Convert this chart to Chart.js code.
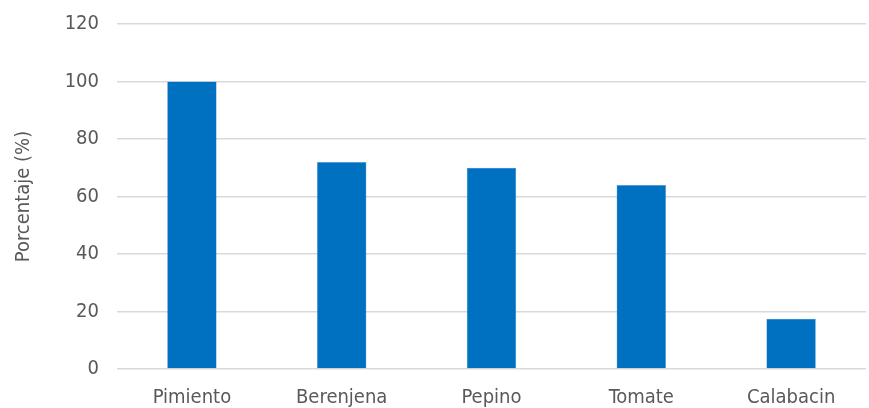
<!DOCTYPE html>
<html>
<head>
<meta charset="utf-8">
<script src="https://cdn.jsdelivr.net/npm/chart.js@4"></script>
<style>
  html, body { margin: 0; padding: 0; background: #fff; }
  #wrap { width: 869px; height: 408px; }
</style>
</head>
<body>
<div id="wrap"><canvas id="chart"></canvas></div>
<script>
// Chart data
const categories = ['Pimiento', 'Berenjena', 'Pepino', 'Tomate', 'Calabacin'];
const values = [100, 72, 70, 64, 17.5];
const yTicks = { min: 0, max: 120, step: 20 };

const fontFamily = '"DejaVu Sans Condensed", "Liberation Sans Narrow", sans-serif';
const textColor = '#595959';

new Chart(document.getElementById('chart'), {
  type: 'bar',
  data: {
    labels: categories,
    datasets: [{
      label: 'Porcentaje',
      data: values,
      backgroundColor: '#0070c0',
      borderColor: '#5b9bd5',
      borderWidth: 0.5,
      categoryPercentage: 1,
      barPercentage: 0.33,
    }]
  },
  options: {
    responsive: true,
    maintainAspectRatio: false,
    animation: false,
    layout: { padding: { top: 24, right: 3, left: 12, bottom: 0 } },
    plugins: {
      legend: { display: false },
      tooltip: { enabled: false },
    },
    scales: {
      x: {
        grid: { display: false },
        border: { display: false },
        ticks: { color: textColor, font: { family: fontFamily, size: 20 }, padding: 9 },
        afterFit: (s) => { s.height = 39; s.paddingLeft = 0; s.paddingRight = 0; },
      },
      y: {
        min: yTicks.min,
        max: yTicks.max,
        ticks: {
          stepSize: yTicks.step,
          color: textColor,
          padding: 18,
          font: { family: fontFamily, size: 20 },
        },
        grid: { color: '#d9d9d9', lineWidth: 1.5, drawTicks: false },
        border: { display: false },
        title: {
          display: true,
          text: 'Porcentaje (%)',
          color: textColor,
          font: { family: fontFamily, size: 20 },
          padding: { top: 0, bottom: 0 },
        },
        afterFit: (s) => { s.width = 105; s.paddingTop = 0; s.paddingBottom = 0; },
      }
    }
  }
});
</script>
</body>
</html>
